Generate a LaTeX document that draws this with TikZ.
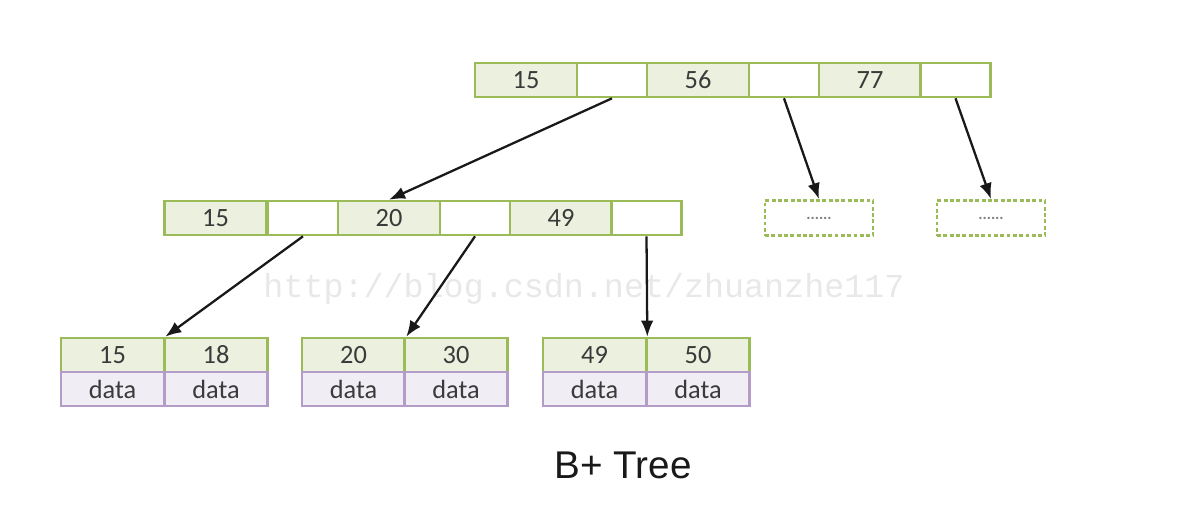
\documentclass[tikz,border=0pt]{standalone}
\usepackage{fontspec}
\setmainfont{Carlito}
\newfontfamily\titlefont{Liberation Sans}
\newfontfamily\markfont{Liberation Mono}
\usepackage{tikz}
\usetikzlibrary{positioning,arrows.meta,calc}
\definecolor{keygreen}{HTML}{9BBB59}
\definecolor{keyfill}{HTML}{EBF1DE}
\definecolor{datapurple}{HTML}{B49CC8}
\definecolor{datafill}{HTML}{F1EDF4}
\definecolor{celltext}{HTML}{3A3A3A}

\begin{document}
\begin{tikzpicture}[x=0.02cm,y=-0.02cm,
 key/.style={draw=keygreen,fill=keyfill,line width=1.5pt,minimum width=2.04cm,minimum height=0.68cm,inner sep=0pt,font=\fontsize{15}{15}\selectfont,text=celltext},
 ptr/.style={draw=keygreen,fill=white,line width=1.5pt,minimum width=1.40cm,minimum height=0.68cm,inner sep=0pt},
 leafkey/.style={key,minimum width=2.06cm},
 leafdata/.style={draw=datapurple,fill=datafill,line width=1.5pt,minimum width=2.06cm,minimum height=0.68cm,inner sep=0pt,font=\fontsize{15}{15}\selectfont,text=celltext},
 stub/.style={draw=keygreen,dash pattern=on 2.2pt off 1.4pt,line width=1.6pt,minimum width=2.16cm,minimum height=0.70cm,inner sep=0pt,font=\small\bfseries,text=gray},
 link/.style={-{Latex[length=3.2mm,width=2.5mm]},black!90,line width=1.3pt}]

\useasboundingbox (0,0) rectangle (1200,505);

% Watermark, behind everything
\node[font=\markfont\fontsize{19}{19}\selectfont,text=black!9] (mark) at (584,289) {http://blog.csdn.net/zhuanzhe117};

% Root node
\node[key] (r1) at (526,80) {15};  \node[ptr] (rp1) at (612,80) {};
\node[key] (r2) at (698,80) {56};  \node[ptr] (rp2) at (784,80) {};
\node[key] (r3) at (870,80) {77};  \node[ptr] (rp3) at (955.5,80) {};

% Inner node
\node[key] (m1) at (215.5,218) {15}; \node[ptr] (mp1) at (303,218) {};
\node[key] (m2) at (389,218) {20};   \node[ptr] (mp2) at (475,218) {};
\node[key] (m3) at (561,218) {49};   \node[ptr] (mp3) at (646.5,218) {};

% Elided siblings
\node[stub] (s1) at (819,218) {......};
\node[stub] (s2) at (991,218) {......};

% Leaves: keys on top, data below
\node[leafkey] (l1a) at (112.5,355) {15}; \node[leafkey] (l1b) at (216,355) {18};
\node[leafdata] (d1a) at (112.5,389) {data}; \node[leafdata] (d1b) at (216,389) {data};
\node[leafkey] (l2a) at (353.5,355) {20}; \node[leafkey] (l2b) at (456,355) {30};
\node[leafdata] (d2a) at (353.5,389) {data}; \node[leafdata] (d2b) at (456,389) {data};
\node[leafkey] (l3a) at (594.5,355) {49}; \node[leafkey] (l3b) at (698,355) {50};
\node[leafdata] (d3a) at (594.5,389) {data}; \node[leafdata] (d3b) at (698,389) {data};

% Pointers
\draw[link] (rp1.south) -- (m2.north);
\draw[link] (rp2.south) -- (s1.north);
\draw[link] (rp3.south) -- (s2.north);
\draw[link] (mp1.south) -- (l1a.north east);
\draw[link] (mp2.south) -- (l2a.north east);
\draw[link] (mp3.south) -- (l3a.north east);

% Caption
\node[font=\titlefont\fontsize{22}{22}\selectfont,text=black!90] (title) at (623,465) {B+ Tree};
\end{tikzpicture}
\end{document}
